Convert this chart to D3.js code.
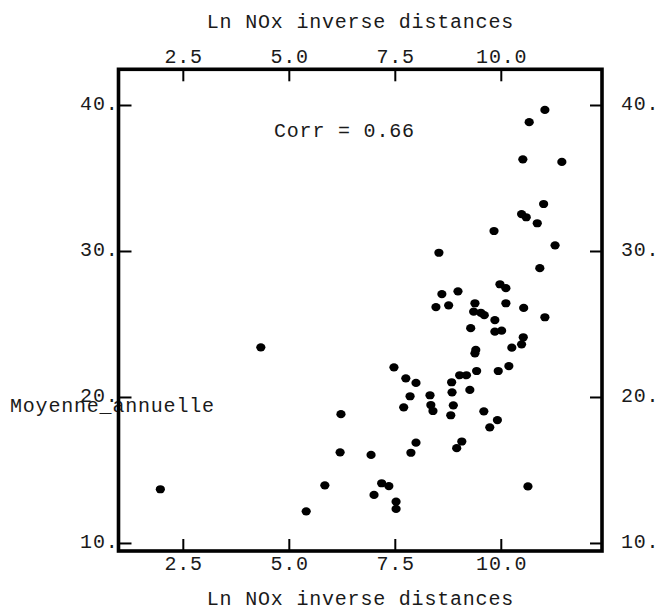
<!DOCTYPE html>
<html>
<head>
<meta charset="utf-8">
<script src="https://cdn.jsdelivr.net/npm/d3@7"></script>
<style>
  html, body { margin: 0; padding: 0; background: #fff; }
  svg { display: block; }
</style>
</head>
<body>
<div id="chart"></div>
<script>
// values
const X_TICKS= [2.5, 5.0, 7.5, 10.0];
const Y_TICKS= [10, 20, 30, 40];
const X_TITLE= 'Ln NOx inverse distances';
const Y_TITLE= 'Moyenne_annuelle';
const CORR_LABEL= 'Corr = 0.66';

const lnNox= [
  11.04, 10.67, 10.52, 11.44, 11.01, 10.49, 10.60, 10.86, 9.84, 11.28,
  8.54, 10.92, 9.98, 10.12, 8.61, 8.99, 8.47, 8.77, 9.39, 10.12,
  10.54, 11.04, 9.36, 9.53, 9.61, 9.86, 9.29, 9.86, 10.02, 10.53,
  10.49, 10.26, 9.41, 9.39, 7.48, 7.76, 8.00, 7.86, 7.71, 8.33,
  8.35, 8.40, 8.84, 9.03, 9.19, 9.43, 9.27, 8.85, 8.88, 8.82,
  9.94, 10.19, 9.60, 9.92, 9.74, 8.00, 7.88, 9.08, 8.96, 6.94,
  7.19, 7.36, 7.01, 7.53, 7.53, 10.64, 4.34, 6.23, 6.21, 5.85,
  1.97, 5.41,
];
const moyenne= [
  39.66, 38.82, 36.28, 36.10, 33.22, 32.53, 32.31, 31.90, 31.37, 30.39,
  29.88, 28.82, 27.72, 27.45, 27.05, 27.24, 26.16, 26.28, 26.42, 26.42,
  26.10, 25.46, 25.84, 25.77, 25.60, 25.27, 24.71, 24.47, 24.54, 24.09,
  23.61, 23.38, 23.22, 22.99, 22.03, 21.28, 20.96, 20.05, 19.29, 20.12,
  19.45, 19.04, 21.01, 21.49, 21.49, 21.78, 20.48, 20.32, 19.43, 18.75,
  21.78, 22.12, 19.02, 18.42, 17.92, 16.87, 16.18, 16.95, 16.49, 16.03,
  14.09, 13.90, 13.29, 12.83, 12.33, 13.87, 23.40, 18.82, 16.21, 13.95,
  13.68, 12.17,
];

const W= 658;
const H= 610;
const FONT= '"Liberation Mono", "Courier New", monospace';
const FS= 20;
const LS= '0.8px';
const TXT= '#1a1a1a';

const L= 118.5, R= 602, T= 69.3, B= 551;

const x= d3.scaleLinear().domain([0.983, 12.387]).range([L, R]);
const y= d3.scaleLinear().domain([9.45, 42.445]).range([B, T]);

const svg= d3.select('#chart').append('svg')
  .attr('width', W)
  .attr('height', H)
  .attr('viewBox', `0 0 ${W} ${H}`);

function label(sel) {
  sel.attr('font-family', FONT).attr('font-size', FS)
    .attr('letter-spacing', LS).attr('fill', TXT);
}

function styleAxis(g) {
  g.attr('font-family', FONT).attr('font-size', FS);
  g.select('.domain').remove();
  g.selectAll('.tick line').attr('stroke', '#000').attr('stroke-width', 2);
  g.selectAll('.tick text').attr('fill', TXT).attr('letter-spacing', LS);
}

// bottom
svg.append('g')
  .attr('transform', `translate(0,${B})`)
  .call(d3.axisBottom(x).tickValues(X_TICKS).tickFormat(d3.format('.1f'))
    .tickSizeInner(-12).tickSizeOuter(0))
  .call(styleAxis)
  .call(g => g.selectAll('.tick text').attr('x', 0.4).attr('y', 19).attr('dy', null));

// top
svg.append('g')
  .attr('transform', `translate(0,${T})`)
  .call(d3.axisTop(x).tickValues(X_TICKS).tickFormat(d3.format('.1f'))
    .tickSizeInner(-12).tickSizeOuter(0))
  .call(styleAxis)
  .call(g => g.selectAll('.tick text').attr('x', 0.4).attr('y', -6).attr('dy', null));

// y label goes under the frame, as in the original
svg.append('text')
  .attr('x', 10).attr('y', 412)
  .call(label)
  .text(Y_TITLE);

// left
svg.append('g')
  .attr('transform', `translate(${L},0)`)
  .call(d3.axisLeft(y).tickValues(Y_TICKS).tickFormat(d => d + '.')
    .tickSizeInner(-13).tickSizeOuter(0))
  .call(styleAxis)
  .call(g => g.selectAll('.tick text').attr('x', 0).attr('y', 5).attr('dy', null));

// right
svg.append('g')
  .attr('transform', `translate(${R},0)`)
  .call(d3.axisRight(y).tickValues(Y_TICKS).tickFormat(d => d + '.')
    .tickSizeInner(-12).tickSizeOuter(0))
  .call(styleAxis)
  .call(g => g.selectAll('.tick text').attr('x', 19).attr('y', 5).attr('dy', null));

svg.append('rect')
  .attr('x', L).attr('y', T)
  .attr('width', R-L).attr('height', B-T)
  .attr('fill', 'none')
  .attr('stroke', '#000')
  .attr('stroke-width', 3.6);

svg.append('g')
  .selectAll('ellipse')
  .data(lnNox.map((v, i) => [v, moyenne[i]]))
  .join('ellipse')
  .attr('cx', d => x(d[0]))
  .attr('cy', d => y(d[1]))
  .attr('rx', 4.6)
  .attr('ry', 4.1)
  .attr('fill', '#000');

svg.append('text')
  .attr('x', 274).attr('y', 137)
  .call(label)
  .text(CORR_LABEL);

svg.append('text')
  .attr('x', 360.4).attr('y', 28)
  .attr('text-anchor', 'middle')
  .call(label)
  .text(X_TITLE);

svg.append('text')
  .attr('x', 360.4).attr('y', 605)
  .attr('text-anchor', 'middle')
  .call(label)
  .text(X_TITLE);
</script>
</body>
</html>
